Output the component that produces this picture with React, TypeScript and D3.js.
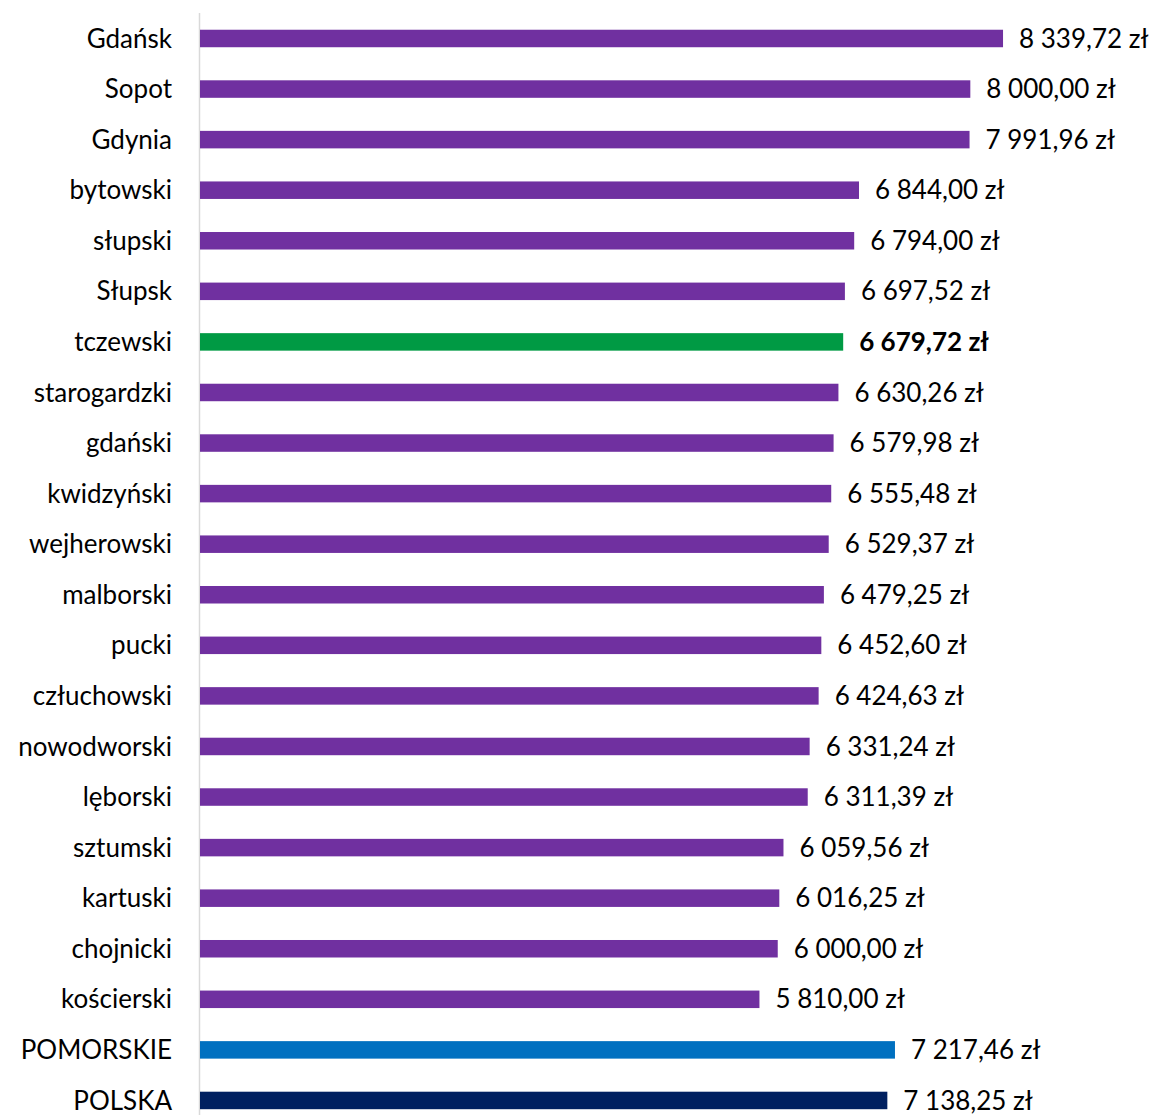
import React from "react";
import * as d3 from "d3";

const categories = [
  "Gdańsk", "Sopot", "Gdynia", "bytowski", "słupski", "Słupsk", "tczewski",
  "starogardzki", "gdański", "kwidzyński", "wejherowski", "malborski", "pucki",
  "człuchowski", "nowodworski", "lęborski", "sztumski", "kartuski", "chojnicki",
  "kościerski", "POMORSKIE", "POLSKA",
];
const values = [
  8339.72, 8000.0, 7991.96, 6844.0, 6794.0, 6697.52, 6679.72, 6630.26, 6579.98,
  6555.48, 6529.37, 6479.25, 6452.6, 6424.63, 6331.24, 6311.39, 6059.56, 6016.25,
  6000.0, 5810.0, 7217.46, 7138.25,
];
const highlight: Record<string, string> = {
  tczewski: "#009A44",
  POMORSKIE: "#0070C0",
  POLSKA: "#002060",
};
const baseColor = "#7030A0";

const W = 1151;
const H = 1115;

function fmt(v: number) {
  const s = v.toFixed(2);
  const [i, d] = s.split(".");
  const ii = i.replace(/\B(?=(\d{3})+(?!\d))/g, " ");
  return `${ii},${d} zł`;
}

export default function App() {
  const x = d3.scaleLinear().domain([0, 9000]).range([200, 200 + 0.09629 * 9000]);
  const y = d3
    .scaleBand<string>()
    .domain(categories)
    .range([13.2, 13.2 + 22 * 50.57])
    .paddingInner(0.654)
    .paddingOuter(0.327);
  const font = "Lato, 'Open Sans', sans-serif";
  return (
    <svg
      width={W}
      height={H}
      style={{ position: "absolute", left: 0, top: 0, background: "#fff" }}
      fontFamily={font}
    >
      <line x1={199.5} x2={199.5} y1={13} y2={H} stroke="#d9d9d9" strokeWidth={1.5} />
      {categories.map((c, i) => {
        const yy = y(c)!;
        const bw = y.bandwidth();
        const cy = yy + bw / 2;
        const v = values[i];
        const bold = c === "tczewski";
        return (
          <g key={c}>
            <rect
              x={x(0)}
              y={yy}
              width={x(v) - x(0)}
              height={bw}
              fill={highlight[c] || baseColor}
            />
            <text
              x={172}
              y={cy}
              dy="0.35em"
              textAnchor="end"
              fontSize={26}
              fill="#000"
            >
              {c}
            </text>
            <text
              x={x(v) + 16}
              y={cy}
              dy="0.35em"
              fontSize={26}
              fontWeight={bold ? "bold" : "normal"}
              fill="#000"
            >
              {fmt(v)}
            </text>
          </g>
        );
      })}
    </svg>
  );
}
